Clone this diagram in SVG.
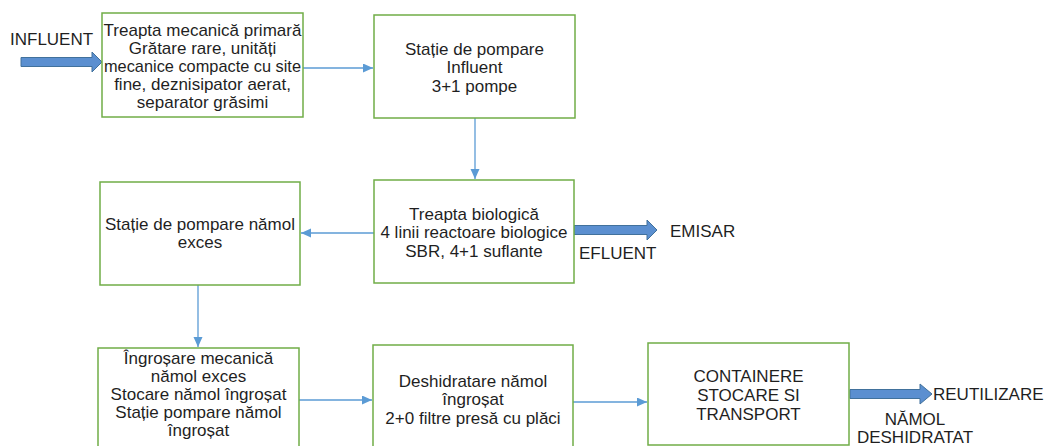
<svg xmlns="http://www.w3.org/2000/svg" width="1044" height="446" viewBox="0 0 1044 446">
  <style>
    .box { fill: #ffffff; stroke: #70AD47; stroke-width: 1.5; }
    .txt { font-family: "Liberation Sans", Arial, sans-serif; font-size: 17px; fill: #1f1f1f; text-anchor: middle; }
    .lbl { font-family: "Liberation Sans", Arial, sans-serif; font-size: 17px; fill: #1f1f1f; }
    .link { fill: none; stroke: #5B9BD5; stroke-width: 1.3; marker-end: url(#tip); }
    .flow { fill: #5B8FD0; stroke: #41719C; stroke-width: 1; }
  </style>
  <defs>
    <marker id="tip" markerUnits="userSpaceOnUse" markerWidth="11" markerHeight="10" refX="10" refY="4.5" orient="auto">
      <path d="M0,0 L10,4.5 L0,9 z" fill="#5B9BD5"/>
    </marker>
  </defs>
  <rect width="1044" height="446" fill="#ffffff"/>

  <!-- thin connectors between stages -->
  <g id="connectors">
    <path class="link" d="M303,68 H373"/>
    <path class="link" d="M475,118 V179"/>
    <path class="link" d="M374,233 H301"/>
    <path class="link" d="M198,285 V347"/>
    <path class="link" d="M299,400 H372"/>
    <path class="link" d="M573,402 H647"/>
  </g>

  <!-- inflow / outflow block arrows -->
  <g id="influent">
    <text class="lbl" x="10" y="45">INFLUENT</text>
    <polygon class="flow" points="21,57.5 92,57.5 92,52 102,62 92,72 92,66.5 21,66.5"/>
  </g>
  <g id="efluent">
    <polygon class="flow" points="574,225.5 647,225.5 647,220 657,230 647,240 647,234.5 574,234.5"/>
    <text class="lbl" x="670" y="237">EMISAR</text>
    <text class="lbl" x="579" y="259">EFLUENT</text>
  </g>
  <g id="reutilizare">
    <polygon class="flow" points="850,389.5 920,389.5 920,384 932,394 920,404 920,398.5 850,398.5"/>
    <text class="lbl" x="933" y="400">REUTILIZARE</text>
    <text class="txt" x="915" y="425">NĂMOL</text>
    <text class="txt" x="915" y="443">DESHIDRATAT</text>
  </g>

  <g id="treapta-mecanica">
    <rect class="box" x="102" y="13" width="201" height="104"/>
    <text class="txt" x="202.5" y="36">Treapta mecanică primară</text>
    <text class="txt" x="202.5" y="54">Grătare rare, unități</text>
    <text class="txt" x="202.5" y="72" textLength="197" lengthAdjust="spacingAndGlyphs">mecanice compacte cu site</text>
    <text class="txt" x="202.5" y="90">fine, deznisipator aerat,</text>
    <text class="txt" x="202.5" y="108">separator grăsimi</text>
  </g>

  <g id="statie-pompare-influent">
    <rect class="box" x="374" y="15" width="201" height="103"/>
    <text class="txt" x="474.5" y="55">Stație de pompare</text>
    <text class="txt" x="474.5" y="73">Influent</text>
    <text class="txt" x="474.5" y="92">3+1 pompe</text>
  </g>

  <g id="treapta-biologica">
    <rect class="box" x="374" y="180" width="200" height="103"/>
    <text class="txt" x="474" y="220">Treapta biologică</text>
    <text class="txt" x="474" y="238">4 linii reactoare biologice</text>
    <text class="txt" x="474" y="257">SBR, 4+1 suflante</text>
  </g>

  <g id="statie-pompare-namol">
    <rect class="box" x="100" y="182" width="200" height="103"/>
    <text class="txt" x="200" y="230">Stație de pompare nămol</text>
    <text class="txt" x="200" y="248">exces</text>
  </g>

  <g id="ingrosare">
    <rect class="box" x="98" y="348" width="201" height="110"/>
    <text class="txt" x="198.5" y="364">Îngroșare mecanică</text>
    <text class="txt" x="198.5" y="382">nămol exces</text>
    <text class="txt" x="198.5" y="400">Stocare nămol îngroșat</text>
    <text class="txt" x="198.5" y="418">Stație pompare nămol</text>
    <text class="txt" x="198.5" y="436">îngroșat</text>
  </g>

  <g id="deshidratare">
    <rect class="box" x="373" y="345" width="200" height="110"/>
    <text class="txt" x="473" y="387">Deshidratare nămol</text>
    <text class="txt" x="473" y="405">îngroșat</text>
    <text class="txt" x="473" y="424">2+0 filtre presă cu plăci</text>
  </g>

  <g id="containere">
    <rect class="box" x="648" y="343" width="201" height="102"/>
    <text class="txt" x="748.5" y="382">CONTAINERE</text>
    <text class="txt" x="748.5" y="401">STOCARE SI</text>
    <text class="txt" x="748.5" y="420">TRANSPORT</text>
  </g>
</svg>
